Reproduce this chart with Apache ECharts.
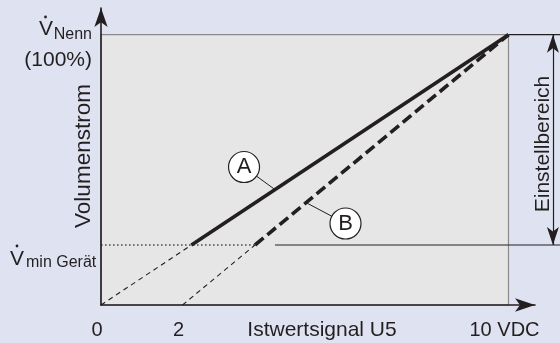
<!DOCTYPE html>
<html>
<head>
<meta charset="utf-8">
<script src="https://cdn.jsdelivr.net/npm/echarts@6/dist/echarts.min.js"></script>
<style>
html,body{margin:0;padding:0;background:#dfe3f1;}
#c{width:560px;height:343px;}
</style>
</head>
<body>
<div id="c"></div>
<script>
// ---- data ----
const xTickValues = [0, 2, 10];
const xTickLabels = ['0', '2', '10 VDC'];
const vMin = 22.2;          // V min Gerät (% of V Nenn)
const vNenn = 100;          // V Nenn (100%)
const lineA = [[0, 0], [2.22, vMin], [10, vNenn]];      // characteristic A
const lineB = [[2, 0], [3.78, vMin], [10, vNenn]];      // characteristic B
const markerLabels = ['A', 'B'];
const markerPos = [[3.51, 51.05], [6.0, 30.15]];
const markerTarget = [[4.27, 42.7], [5.055, 37.7]];
const rangeX = 11.09;       // Einstellbereich arrow position
const extX = 11.3;          // reference lines extend beyond plot

const FONT = '"Liberation Sans", Arial, Helvetica, sans-serif';
const INK = '#231f20';

const chart = echarts.init(document.getElementById('c'), null, {renderer: 'canvas'});

function seg(data, width, type, extra) {
  return Object.assign({
    type: 'line', data: data, symbol: 'none', silent: true, clip: false,
    xAxisIndex: 1, yAxisIndex: 1,
    lineStyle: {color: INK, width: width, type: type},
    z: 3
  }, extra || {});
}

const option = {
  backgroundColor: '#dfe3f1',
  animation: false,
  grid: [
    {left: 101, right: 25, top: 8, bottom: 38},
    {left: 101, right: 0, top: 8, bottom: 38}
  ],
  xAxis: [{
    type: 'value', min: 0, max: 10.65, z: 10, gridIndex: 0,
    axisLine: {show: true, lineStyle: {color: INK, width: 1.6}, symbol: ['none', 'arrow'], symbolSize: [10, 20]},
    axisTick: {show: false},
    splitLine: {show: false},
    axisLabel: {
      customValues: xTickValues,
      formatter: function (v) { return xTickLabels[xTickValues.indexOf(v)]; },
      fontFamily: FONT, fontSize: 20, color: INK, margin: 15, padding: [0, 8, 0, 0]
    }
  }, {
    type: 'value', min: 0, max: 11.264, gridIndex: 1, show: false
  }],
  yAxis: [{
    type: 'value', min: 0, max: 109.88, z: 10, gridIndex: 0,
    axisLine: {show: true, lineStyle: {color: INK, width: 1.6}, symbol: ['none', 'arrow'], symbolSize: [10, 19]},
    axisTick: {show: false},
    splitLine: {show: false},
    axisLabel: {show: false}
  }, {
    type: 'value', min: 0, max: 109.88, gridIndex: 1, show: false
  }],
  series: [
    // plot area background
    {
      type: 'line', data: [], silent: true, z: 1, xAxisIndex: 1, yAxisIndex: 1,
      markArea: {
        silent: true,
        itemStyle: {color: '#e6e6e6', borderColor: '#8a8a8a', borderWidth: 1.2},
        data: [[{coord: [0, 0]}, {coord: [10, vNenn]}]]
      }
    },
    // top reference line extension and Vmin reference line
    seg([[10, vNenn], [extX, vNenn]], 1.2, 'solid'),
    seg([[0, vMin], [lineB[1][0], vMin]], 1.2, [1.6, 2.4], {lineStyle: {color: '#000', width: 1.2, type: [1.6, 2.4]}}),
    seg([[4.27, vMin], [extX, vMin]], 1.2, 'solid'),
    // characteristic A
    seg([lineA[0], lineA[1]], 1.1, [5, 4]),
    seg([lineA[1], lineA[2]], 3.6, 'solid'),
    // characteristic B
    seg([lineB[0], lineB[1]], 1.1, [5, 4]),
    seg([lineB[1], lineB[2]], 3.6, [11, 5]),
    // leader lines
    seg([markerPos[0], markerTarget[0]], 1, 'solid', {z: 4}),
    seg([markerPos[1], markerTarget[1]], 1, 'solid', {z: 4}),
    // Einstellbereich arrow
    {
      type: 'line', data: [], clip: false, silent: true, xAxisIndex: 1, yAxisIndex: 1,
      markLine: {
        silent: true, symbol: ['arrow', 'arrow'], symbolSize: [9, 18],
        lineStyle: {color: INK, width: 1.2, type: 'solid'},
        label: {show: false},
        data: [[{coord: [rangeX, vMin]}, {coord: [rangeX, vNenn]}]]
      }
    },
    // markers A / B
    {
      type: 'scatter', silent: true, z: 5, xAxisIndex: 1, yAxisIndex: 1,
      data: markerPos.map((p, i) => [p[0], p[1], markerLabels[i]]),
      symbol: 'circle', symbolSize: 31,
      itemStyle: {color: '#ffffff', borderColor: INK, borderWidth: 1.2, opacity: 1},
      label: {
        show: true, position: 'inside', formatter: p => p.data[2],
        fontFamily: FONT, fontSize: 22, color: INK
      }
    }
  ],
  graphic: {
    elements: [
      {type: 'text', id: 'vN', x: 53, y: 29, style: {text: 'V', font: '21px ' + FONT, fill: INK, align: 'right', verticalAlign: 'middle'}},
      {type: 'circle', id: 'vNdot', shape: {cx: 45.5, cy: 17, r: 1.4}, style: {fill: INK}},
      {type: 'text', id: 'nenn', x: 92, y: 35, style: {text: 'Nenn', font: '16px ' + FONT, fill: INK, align: 'right', verticalAlign: 'middle'}},
      {type: 'text', id: 'p100', x: 92, y: 60, style: {text: '(100%)', font: '21px ' + FONT, fill: INK, align: 'right', verticalAlign: 'middle'}},
      {type: 'text', id: 'vM', x: 10, y: 259, style: {text: 'V', font: '21px ' + FONT, fill: INK, align: 'left', verticalAlign: 'middle'}},
      {type: 'circle', id: 'vMdot', shape: {cx: 17, cy: 246, r: 1.4}, style: {fill: INK}},
      {type: 'text', id: 'minG', x: 26, y: 263, style: {text: 'min Gerät', font: '16px ' + FONT, fill: INK, align: 'left', verticalAlign: 'middle'}},
      {type: 'text', id: 'vol', x: 84, y: 156, rotation: Math.PI / 2, style: {text: 'Volumenstrom', font: '22.5px ' + FONT, fill: INK, align: 'center', verticalAlign: 'middle'}},
      {type: 'text', id: 'ist', x: 322, y: 330, style: {text: 'Istwertsignal U5', font: '21px ' + FONT, fill: INK, align: 'center', verticalAlign: 'middle'}},
      {type: 'text', id: 'ein', x: 543, y: 144, rotation: Math.PI / 2, style: {text: 'Einstellbereich', font: '21px ' + FONT, fill: INK, align: 'center', verticalAlign: 'middle'}}
    ]
  }
};
chart.setOption(option);
</script>
</body>
</html>
